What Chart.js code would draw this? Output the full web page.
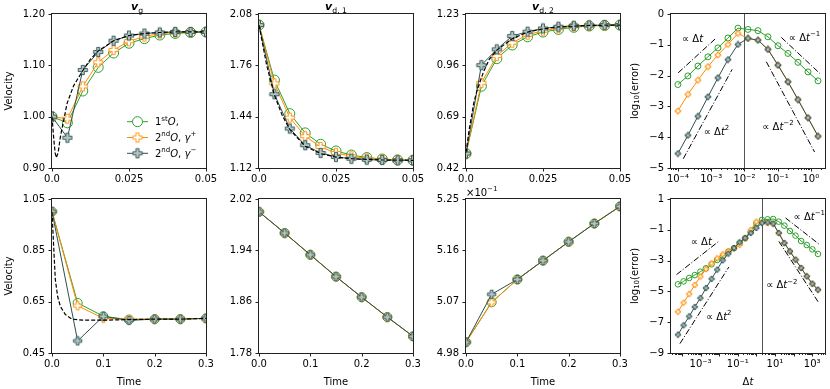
<!DOCTYPE html>
<html>
<head>
<meta charset="utf-8">
<script src="https://cdn.jsdelivr.net/npm/chart.js@4.4.1/dist/chart.umd.min.js"></script>
<style>
  body { margin: 0; background: #fff; width: 830px; height: 389px; position: relative; overflow: hidden; }
  .p { position: absolute; }
</style>
</head>
<body>
<script>
// top row: early transient, dt = 0.005
const tShort = [0, 0.005, 0.01, 0.015, 0.02, 0.025, 0.03, 0.035, 0.04, 0.045, 0.05];
const vgFirst = [1.000, 0.988, 1.050, 1.096, 1.124, 1.143, 1.152, 1.159, 1.162, 1.164, 1.165];
const vgPlus = [1.000, 0.996, 1.059, 1.106, 1.130, 1.147, 1.156, 1.162, 1.164, 1.165, 1.165];
const vgMinus = [1.000, 0.959, 1.091, 1.126, 1.148, 1.158, 1.162, 1.164, 1.165, 1.165, 1.165];
const vgExactT = [0, 0.0005, 0.001, 0.0014, 0.002, 0.0027, 0.0038, 0.0049, 0.007, 0.01, 0.0125, 0.015, 0.02, 0.025, 0.03, 0.035, 0.04, 0.05];
const vgExact = [1.000, 0.962, 0.930, 0.920, 0.930, 0.960, 0.993, 1.026, 1.060, 1.090, 1.112, 1.128, 1.148, 1.158, 1.162, 1.164, 1.165, 1.165];

const vd1First = [2.011, 1.668, 1.459, 1.339, 1.268, 1.226, 1.201, 1.185, 1.176, 1.170, 1.168];
const vd1Plus = [2.011, 1.647, 1.434, 1.318, 1.251, 1.214, 1.193, 1.180, 1.174, 1.170, 1.168];
const vd1Minus = [2.011, 1.580, 1.366, 1.262, 1.214, 1.189, 1.178, 1.172, 1.170, 1.168, 1.168];
const vd1ExactT = [0, 0.0025, 0.005, 0.0075, 0.01, 0.015, 0.02, 0.025, 0.03, 0.04, 0.05];
const vd1Exact = [2.011, 1.760, 1.575, 1.450, 1.360, 1.255, 1.210, 1.188, 1.178, 1.170, 1.168];

const vd2First = [0.496, 0.850, 0.995, 1.067, 1.110, 1.135, 1.149, 1.160, 1.167, 1.170, 1.172];
const vd2Plus = [0.496, 0.868, 1.009, 1.079, 1.121, 1.142, 1.156, 1.165, 1.168, 1.170, 1.172];
const vd2Minus = [0.496, 0.961, 1.044, 1.114, 1.137, 1.154, 1.163, 1.168, 1.170, 1.172, 1.172];
const vd2ExactT = [0, 0.001, 0.0025, 0.0036, 0.0057, 0.0075, 0.01, 0.015, 0.02, 0.025, 0.03, 0.04, 0.05];
const vd2Exact = [0.500, 0.620, 0.760, 0.829, 0.926, 0.990, 1.040, 1.100, 1.135, 1.152, 1.162, 1.170, 1.172];

// bottom row: long run, dt = 0.05
const tLong = [0, 0.05, 0.1, 0.15, 0.2, 0.25, 0.3];
const vgLFirst = [1.001, 0.645, 0.593, 0.580, 0.582, 0.582, 0.585];
const vgLPlus = [1.001, 0.634, 0.585, 0.582, 0.582, 0.582, 0.585];
const vgLMinus = [1.001, 0.497, 0.593, 0.577, 0.582, 0.582, 0.585];
const vgLExactT = [0, 0.0015, 0.0032, 0.0065, 0.011, 0.0162, 0.026, 0.039, 0.06, 0.1, 0.15, 0.2, 0.25, 0.3];
const vgLExact = [1.000, 0.940, 0.866, 0.736, 0.670, 0.632, 0.600, 0.582, 0.578, 0.578, 0.580, 0.582, 0.582, 0.585];

const vd1LAll = [2.000, 1.967, 1.933, 1.899, 1.867, 1.836, 1.806];

const vd2LFirst = [4.999, 5.069, 5.109, 5.142, 5.175, 5.207, 5.237];
const vd2LPlus = [4.999, 5.069, 5.109, 5.142, 5.175, 5.207, 5.237];
const vd2LMinus = [4.999, 5.083, 5.109, 5.142, 5.175, 5.207, 5.237];

// convergence, top row
const dtTop = [0.0001, 0.0002, 0.0004, 0.0008, 0.0016, 0.0032, 0.0064, 0.0128, 0.0256, 0.0512, 0.1024, 0.2048, 0.4096, 0.8192, 1.6384];
const errTopFirst = [-2.29, -2.01, -1.69, -1.39, -1.10, -0.78, -0.46, -0.50, -0.54, -0.74, -1.03, -1.28, -1.57, -1.88, -2.17];
const errTopPlus = [-3.15, -2.61, -2.15, -1.71, -1.33, -0.99, -0.63, -0.79, -0.85, -1.15, -1.66, -2.20, -2.78, -3.37, -3.97];
const errTopMinus = [-4.53, -3.94, -3.32, -2.69, -2.07, -1.48, -0.99, -0.79, -0.85, -1.15, -1.66, -2.20, -2.78, -3.37, -3.97];

// convergence, bottom row
const dtBot = [0.000061, 0.000122, 0.000244, 0.000488, 0.000977, 0.00195, 0.0039, 0.0078, 0.0156, 0.03125, 0.0625, 0.125, 0.25, 0.5, 1, 2, 4, 8, 16, 32, 64, 128, 256, 512, 1024, 2048];
const errBotFirst = [-4.54, -4.35, -4.13, -3.94, -3.72, -3.50, -3.24, -2.96, -2.72, -2.42, -2.20, -1.88, -1.55, -1.12, -0.58, -0.36, -0.32, -0.30, -0.47, -0.73, -1.08, -1.38, -1.73, -1.99, -2.27, -2.57];
const errBotPlus = [-6.32, -5.73, -5.17, -4.58, -4.04, -3.55, -3.18, -2.85, -2.59, -2.38, -2.20, -1.99, -1.55, -1.01, -0.47, -0.50, -0.56, -0.60, -1.21, -1.86, -2.40, -2.94, -3.48, -4.02, -4.50, -4.89];
const errBotMinus = [-7.81, -7.20, -6.62, -6.01, -5.43, -4.78, -4.19, -3.59, -2.98, -2.55, -2.18, -1.81, -1.53, -1.21, -0.88, -0.56, -0.52, -0.60, -1.21, -1.86, -2.40, -2.94, -3.48, -4.02, -4.50, -4.89];

// slope guides [dt0, dt1], [err0, err1]
const guideTop = {
  lin: [[1.02e-4, 1.45e-3], [-1.91, -0.77]],
  quad: [[1.45e-4, 4.27e-3], [-4.70, -1.80]],
  inv: [[0.129, 1.86], [-0.76, -1.93]],
  inv2: [[0.0457, 1.29], [-1.55, -4.48]]
};
const guideBot = {
  lin: [[5.1e-5, 9.5e-3], [-3.91, -1.75]],
  quad: [[7.8e-5, 0.033], [-8.39, -3.42]],
  inv: [[37, 2570], [-0.23, -1.97]],
  inv2: [[16.2, 2290], [-1.75, -5.75]]
};

// tick values and labels
const tShortTicks = [0, 0.025, 0.05], tShortLabels = ['0.0', '0.025', '0.05'];
const tLongTicks = [0, 0.1, 0.2, 0.3], tLongLabels = ['0.0', '0.1', '0.2', '0.3'];
const vgTicks = [0.9, 1.0, 1.1, 1.2], vgLabels = ['0.90', '1.00', '1.10', '1.20'];
const vd1Ticks = [1.12, 1.44, 1.76, 2.08], vd1Labels = ['1.12', '1.44', '1.76', '2.08'];
const vd2Ticks = [0.42, 0.69, 0.96, 1.23], vd2Labels = ['0.42', '0.69', '0.96', '1.23'];
const vgLTicks = [0.45, 0.65, 0.85, 1.05], vgLLabels = ['0.45', '0.65', '0.85', '1.05'];
const vd1LTicks = [1.78, 1.86, 1.94, 2.02], vd1LLabels = ['1.78', '1.86', '1.94', '2.02'];
const vd2LTicks = [4.98, 5.07, 5.16, 5.25], vd2LLabels = ['4.98', '5.07', '5.16', '5.25'];
const errTopTicks = [0, -1, -2, -3, -4, -5], errTopLabels = ['0', '\u22121', '\u22122', '\u22123', '\u22124', '\u22125'];
const errBotTicks = [1, -1, -3, -5, -7, -9], errBotLabels = ['1', '\u22121', '\u22123', '\u22125', '\u22127', '\u22129'];
const dtTopDecades = [-5, -4, -3, -2, -1, 0], dtTopLabelled = {'-4': '10\u207B\u2074', '-3': '10\u207B\u00B3', '-2': '10\u207B\u00B2', '-1': '10\u207B\u00B9', '0': '10\u2070'};
const dtBotDecades = [-5, -4, -3, -2, -1, 0, 1, 2, 3], dtBotLabelled = {'-3': '10\u207B\u00B3', '-1': '10\u207B\u00B9', '1': '10\u00B9', '3': '10\u00B3'};

Chart.defaults.font.family = "'DejaVu Sans', sans-serif";
Chart.defaults.font.size = 10;
Chart.defaults.color = '#000';
Chart.defaults.animation = false;

const GREEN = '#2ca02c', ORANGE = '#ff8c00', SLATE = '#2f4f4f';
const PAD_L = 50, PAD_T = 14, PAD_R = 16, PAD_B = 34, BOX = 154;

function plusMarker(size, edge, face) {
  const s = Math.ceil(size) + 2;
  const c = document.createElement('canvas');
  c.width = s; c.height = s;
  const g = c.getContext('2d');
  const h = size / 2, a = size / 6, m = s / 2;
  const pts = [[-a, -h], [a, -h], [a, -a], [h, -a], [h, a], [a, a], [a, h], [-a, h], [-a, a], [-h, a], [-h, -a], [-a, -a]];
  g.beginPath();
  pts.forEach((p, i) => i ? g.lineTo(m + p[0], m + p[1]) : g.moveTo(m + p[0], m + p[1]));
  g.closePath();
  g.fillStyle = face; g.fill();
  g.lineWidth = 0.9; g.strokeStyle = edge; g.stroke();
  return c;
}

function series(xs, ys, kind, r) {
  const base = {
    data: xs.map((x, i) => ({x: x, y: ys[i]})),
    borderWidth: 1, tension: 0, fill: false, clip: 0,
    pointHoverRadius: 0, pointRadius: 0
  };
  if (kind === 'exact') return Object.assign(base, {borderColor: '#000', borderDash: [4, 2], borderWidth: 1.2});
  if (kind === 'guide') return Object.assign(base, {borderColor: '#000', borderDash: [6, 2, 1, 2]});
  if (kind === 'first') return Object.assign(base, {
    borderColor: GREEN, pointStyle: 'circle', pointRadius: r,
    pointBorderColor: GREEN, pointBackgroundColor: 'rgba(0,0,0,0)', pointBorderWidth: 1
  });
  if (kind === 'plus') return Object.assign(base, {
    borderColor: ORANGE, pointStyle: plusMarker(r * 1.85, ORANGE, '#ffffff'), pointRadius: r
  });
  return Object.assign(base, {
    borderColor: SLATE, pointStyle: plusMarker(r * 1.85, SLATE, '#b2c6c6'), pointRadius: r
  });
}

function linTicks(vals, labels) {
  return vals.map((v, i) => ({v: v, label: labels[i], major: true}));
}

function logTicks(decades, labelled) {
  const out = [];
  decades.forEach(e => {
    out.push({v: Math.pow(10, e), label: labelled[e] || '', major: true});
    for (let m = 2; m <= 9; m++) out.push({v: m * Math.pow(10, e), label: '', major: false});
  });
  return out;
}

function rich(ctx, parts, x, y, size, align) {
  const items = parts.map(p => {
    const t = p[0], st = p[1] || '';
    let fs = size, dy = 0, style = '';
    if (st === 'sup') { fs = size * 0.7; dy = -size * 0.4; }
    if (st === 'sub') { fs = size * 0.7; dy = size * 0.25; }
    if (st === 'i') style = 'italic ';
    if (st === 'bi') style = 'italic bold ';
    const f = style + fs + "px 'DejaVu Sans'";
    ctx.font = f;
    return {t: t, f: f, dy: dy, w: ctx.measureText(t).width};
  });
  const total = items.reduce((a, b) => a + b.w, 0);
  let cx = align === 'left' ? x : x - total / 2;
  ctx.textAlign = 'left';
  items.forEach(it => { ctx.font = it.f; ctx.fillText(it.t, cx, y + it.dy); cx += it.w; });
}

const decor = {
  id: 'decor',
  beforeDatasetsDraw(chart, args, o) {
    const ctx = chart.ctx, a = chart.chartArea, x = chart.scales.x;
    (o.vlines || []).forEach(v => {
      const px = Math.round(x.getPixelForValue(v)) + 0.5;
      ctx.save();
      ctx.strokeStyle = '#555'; ctx.lineWidth = 1;
      ctx.beginPath(); ctx.moveTo(px, a.top); ctx.lineTo(px, a.bottom); ctx.stroke();
      ctx.restore();
    });
  },
  afterDraw(chart, args, o) {
    const ctx = chart.ctx, a = chart.chartArea, sx = chart.scales.x, sy = chart.scales.y;
    ctx.save();
    // frame
    ctx.strokeStyle = '#222'; ctx.lineWidth = 1;
    ctx.strokeRect(a.left - 0.5, a.top - 0.5, a.right - a.left + 1, a.bottom - a.top + 1);
    // ticks
    ctx.beginPath();
    sx.ticks.forEach(t => {
      const px = Math.round(sx.getPixelForValue(t.value)) + 0.5;
      if (px < a.left - 1 || px > a.right + 1) return;
      ctx.moveTo(px, a.bottom); ctx.lineTo(px, a.bottom + (t.major ? 3.5 : 2));
    });
    sy.ticks.forEach(t => {
      const py = Math.round(sy.getPixelForValue(t.value)) + 0.5;
      ctx.moveTo(a.left, py); ctx.lineTo(a.left - 3.5, py);
    });
    ctx.stroke();
    ctx.fillStyle = '#000';
    ctx.textBaseline = 'alphabetic';
    const cx = (a.left + a.right) / 2;
    if (o.title) rich(ctx, o.title, cx + (o.titleDx || 0), a.top - 4, 11, 'center');
    ctx.textBaseline = 'middle';
    if (o.xlabel) rich(ctx, o.xlabel, cx, a.bottom + 29, 10, 'center');
    if (o.ylabel) {
      ctx.save();
      ctx.translate(a.left - o.ylabelDx, (a.top + a.bottom) / 2);
      ctx.rotate(-Math.PI / 2);
      rich(ctx, o.ylabel, 0, 0, 10, 'center');
      ctx.restore();
    }
    if (o.offset) rich(ctx, o.offset, a.left, a.top - 6, 10, 'left');
    (o.notes || []).forEach(n => {
      rich(ctx, n.parts, sx.getPixelForValue(n.x), sy.getPixelForValue(n.y), 10, 'center');
    });
    if (o.legend) {
      const ds = chart.data.datasets;
      o.legend.forEach((it, i) => {
        const d = ds[it.ds];
        const y = a.top + 107.7 + i * 15.8;
        const x0 = a.left + 75, x1 = a.left + 96;
        ctx.strokeStyle = d.borderColor; ctx.lineWidth = 1;
        ctx.beginPath(); ctx.moveTo(x0, y); ctx.lineTo(x1, y); ctx.stroke();
        const mx = (x0 + x1) / 2;
        if (typeof d.pointStyle === 'string') {
          ctx.beginPath(); ctx.arc(mx, y, d.pointRadius, 0, Math.PI * 2);
          ctx.fillStyle = '#fff'; ctx.fill(); ctx.stroke();
        } else {
          ctx.drawImage(d.pointStyle, mx - d.pointStyle.width / 2, y - d.pointStyle.height / 2);
        }
        ctx.fillStyle = '#000';
        rich(ctx, it.parts, a.left + 103, y + 1, 10, 'left');
      });
    }
    ctx.restore();
  }
};

function makePanel(L, T, cfg) {
  const div = document.createElement('div');
  div.className = 'p';
  const W = PAD_L + BOX + PAD_R, H = PAD_T + BOX + PAD_B;
  div.style.left = (L - PAD_L) + 'px';
  div.style.top = (T - PAD_T) + 'px';
  const cv = document.createElement('canvas');
  cv.width = W; cv.height = H;
  cv.style.width = W + 'px'; cv.style.height = H + 'px';
  div.appendChild(cv);
  document.body.appendChild(div);

  const axis = (ticks, min, max, isLog, isX) => ({
    type: isLog ? 'logarithmic' : 'linear',
    min: min, max: max, bounds: 'data',
    grid: {display: false, drawTicks: false},
    border: {display: false},
    ticks: {
      autoSkip: false, maxRotation: 0, minRotation: 0,
      padding: isX ? 5 : 7,
      callback: (v, i) => ticks[i] ? ticks[i].label : ''
    },
    afterBuildTicks: s => { s.ticks = ticks.map(t => ({value: t.v, major: t.major})); },
    afterFit: s => {
      if (isX) s.height = PAD_B; else s.width = PAD_L;
      s.paddingLeft = 0; s.paddingRight = 0; s.paddingTop = 0; s.paddingBottom = 0;
    }
  });

  new Chart(cv, {
    type: 'line',
    data: {datasets: cfg.datasets},
    options: {
      responsive: false,
      animation: false,
      layout: {padding: {left: 0, top: PAD_T, right: PAD_R, bottom: 0}},
      plugins: {legend: {display: false}, tooltip: {enabled: false}, decor: cfg.decor},
      scales: {
        x: axis(cfg.xTicks, cfg.xMin, cfg.xMax, cfg.xLog, true),
        y: axis(cfg.yTicks, cfg.yMin, cfg.yMax, false, false)
      }
    },
    plugins: [decor]
  });
}

const COLS = [52, 259, 466, 671], ROWS = [14, 199];
const velLabel = [['Velocity']];
const errLabel = [['log'], ['10', 'sub'], ['(error)']];
const timeLabel = [['Time']];
const guideNotes = (pos) => [
  {parts: [['\u221D \u0394'], ['t', 'i']], x: pos[0][0], y: pos[0][1]},
  {parts: [['\u221D \u0394'], ['t', 'i'], ['2', 'sup']], x: pos[1][0], y: pos[1][1]},
  {parts: [['\u221D \u0394'], ['t', 'i'], ['\u22121', 'sup']], x: pos[2][0], y: pos[2][1]},
  {parts: [['\u221D \u0394'], ['t', 'i'], ['\u22122', 'sup']], x: pos[3][0], y: pos[3][1]}
];
const notePosTop = [[2.75e-4, -0.82], [1.45e-3, -3.85], [0.646, -0.79], [0.102, -3.67]];
const notePosBot = [[1.1e-3, -1.81], [9.5e-3, -6.66], [700, -0.17], [23.4, -4.63]];

function stateSets(xs, first, plus, minus, ex, exT, r) {
  const out = [];
  if (ex) out.push(series(exT, ex, 'exact'));
  out.push(series(xs, minus, 'minus', r));
  out.push(series(xs, plus, 'plus', r));
  out.push(series(xs, first, 'first', r));
  return out;
}

function guideSets(g) {
  return ['lin', 'quad', 'inv', 'inv2'].map(k => series(g[k][0], g[k][1], 'guide'));
}

// top row
makePanel(COLS[0], ROWS[0], {
  datasets: stateSets(tShort, vgFirst, vgPlus, vgMinus, vgExact, vgExactT, 5),
  xTicks: linTicks(tShortTicks, tShortLabels), xMin: 0, xMax: 0.05,
  yTicks: linTicks(vgTicks, vgLabels), yMin: 0.9, yMax: 1.2,
  decor: {
    title: [['v', 'bi'], ['g', 'sub']], titleDx: 8, ylabel: velLabel, ylabelDx: 43,
    legend: [
      {ds: 3, parts: [['1'], ['st', 'sup'], ['O', 'i'], [',']]},
      {ds: 2, parts: [['2'], ['nd', 'sup'], ['O', 'i'], [', '], ['\u03B3', 'i'], ['+', 'sup']]},
      {ds: 1, parts: [['2'], ['nd', 'sup'], ['O', 'i'], [', '], ['\u03B3', 'i'], ['\u2212', 'sup']]}
    ]
  }
});
makePanel(COLS[1], ROWS[0], {
  datasets: stateSets(tShort, vd1First, vd1Plus, vd1Minus, vd1Exact, vd1ExactT, 5),
  xTicks: linTicks(tShortTicks, tShortLabels), xMin: 0, xMax: 0.05,
  yTicks: linTicks(vd1Ticks, vd1Labels), yMin: 1.12, yMax: 2.08,
  decor: {title: [['v', 'bi'], ['d, 1', 'sub']]}
});
makePanel(COLS[2], ROWS[0], {
  datasets: stateSets(tShort, vd2First, vd2Plus, vd2Minus, vd2Exact, vd2ExactT, 5),
  xTicks: linTicks(tShortTicks, tShortLabels), xMin: 0, xMax: 0.05,
  yTicks: linTicks(vd2Ticks, vd2Labels), yMin: 0.42, yMax: 1.23,
  decor: {title: [['v', 'bi'], ['d, 2', 'sub']]}
});
makePanel(COLS[3], ROWS[0], {
  datasets: guideSets(guideTop).concat(stateSets(dtTop, errTopFirst, errTopPlus, errTopMinus, null, null, 3)),
  xTicks: logTicks(dtTopDecades, dtTopLabelled), xMin: 6.2e-5, xMax: 2.66, xLog: true,
  yTicks: linTicks(errTopTicks, errTopLabels), yMin: -5, yMax: 0,
  decor: {ylabel: errLabel, ylabelDx: 36, vlines: [0.01], notes: guideNotes(notePosTop)}
});

// bottom row
makePanel(COLS[0], ROWS[1], {
  datasets: stateSets(tLong, vgLFirst, vgLPlus, vgLMinus, vgLExact, vgLExactT, 4.5),
  xTicks: linTicks(tLongTicks, tLongLabels), xMin: 0, xMax: 0.3,
  yTicks: linTicks(vgLTicks, vgLLabels), yMin: 0.45, yMax: 1.05,
  decor: {ylabel: velLabel, ylabelDx: 43, xlabel: timeLabel}
});
makePanel(COLS[1], ROWS[1], {
  datasets: stateSets(tLong, vd1LAll, vd1LAll, vd1LAll, null, null, 4.5),
  xTicks: linTicks(tLongTicks, tLongLabels), xMin: 0, xMax: 0.3,
  yTicks: linTicks(vd1LTicks, vd1LLabels), yMin: 1.78, yMax: 2.02,
  decor: {xlabel: timeLabel}
});
makePanel(COLS[2], ROWS[1], {
  datasets: stateSets(tLong, vd2LFirst, vd2LPlus, vd2LMinus, null, null, 4.5),
  xTicks: linTicks(tLongTicks, tLongLabels), xMin: 0, xMax: 0.3,
  yTicks: linTicks(vd2LTicks, vd2LLabels), yMin: 4.98, yMax: 5.25,
  decor: {xlabel: timeLabel, offset: [['\u00D710'], ['\u22121', 'sup']]}
});
makePanel(COLS[3], ROWS[1], {
  datasets: guideSets(guideBot).concat(stateSets(dtBot, errBotFirst, errBotPlus, errBotMinus, null, null, 2.8)),
  xTicks: logTicks(dtBotDecades, dtBotLabelled), xMin: 2.57e-5, xMax: 4900, xLog: true,
  yTicks: linTicks(errBotTicks, errBotLabels), yMin: -9, yMax: 1,
  decor: {ylabel: errLabel, ylabelDx: 36, xlabel: [['\u0394'], ['t', 'i']], vlines: [2], notes: guideNotes(notePosBot)}
});
</script>
</body>
</html>
